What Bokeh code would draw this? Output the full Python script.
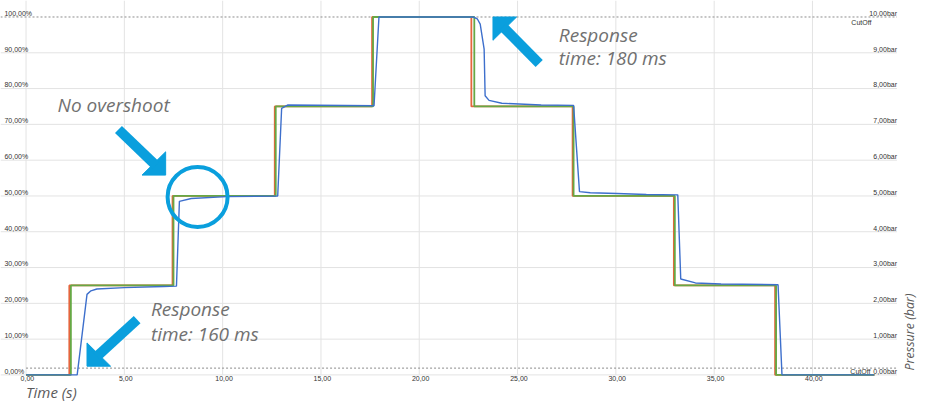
import math
from bokeh.plotting import figure
from bokeh.models import Range1d
from bokeh.core.properties import value
from bokeh.embed import file_html
from bokeh.resources import INLINE

# ---------------- data ----------------
# setpoint (red) and command (green): step times [s] and levels [%]
red_step_times = [2.2, 7.45, 12.65, 17.6, 22.65, 27.8, 32.95, 38.1]
green_step_times = [2.28, 7.5, 12.7, 17.65, 22.8, 27.85, 33.0, 38.15]
step_levels = [0, 25, 50, 75, 100, 75, 50, 25, 0]
t_end = 43.15

# measured pressure (blue)
blue_t = [0.0, 2.6, 3.1, 3.3, 3.6, 5.0, 7.0, 7.65,
          7.8, 8.4, 10.2, 12.8,
          13.0, 13.3, 17.7,
          17.95, 22.75, 22.95, 23.1, 23.3, 23.35, 23.55, 24.2, 26.2, 27.85,
          28.15, 28.7, 30.05, 31.55, 33.15,
          33.3, 34.05, 35.35, 38.25,
          38.45, 43.15]
blue_p = [0.0, 0.0, 22.5, 23.5, 24.0, 24.4, 24.7, 24.8,
          48.5, 49.3, 49.8, 50.0,
          74.5, 75.4, 75.2,
          100.0, 100.0, 99.5, 98.0, 91.0, 78.0, 76.7, 75.9, 75.4, 75.3,
          51.2, 50.9, 50.7, 50.4, 50.3,
          26.8, 25.7, 25.4, 25.2,
          0.0, 0.0]

# axes ticks
y_ticks = [0, 10, 20, 30, 40, 50, 60, 70, 80, 90, 100]
y_left_labels = ["0,00%", "10,00%", "20,00%", "30,00%", "40,00%", "50,00%",
                 "60,00%", "70,00%", "80,00%", "90,00%", "100,00%"]
y_right_labels = ["0,00bar", "1,00bar", "2,00bar", "3,00bar", "4,00bar", "5,00bar",
                  "6,00bar", "7,00bar", "8,00bar", "9,00bar", "10,00bar"]
x_ticks = [0, 5, 10, 15, 20, 25, 30, 35, 40]
x_labels = ["0,00", "5,00", "10,00", "15,00", "20,00", "25,00", "30,00", "35,00", "40,00"]
cutoff_levels = [100.0, 1.9]


def step_path(times, levels, t0, t1):
    xs, ys = [t0], [levels[0]]
    for t, a, b in zip(times, levels[:-1], levels[1:]):
        xs += [t, t]
        ys += [a, b]
    xs.append(t1)
    ys.append(levels[-1])
    return xs, ys


# ---------------- figure ----------------
# reference-pixel helpers for annotation placement
def tx(X):
    return (X - 26) / 20.0


def ty(Y):
    return (386 - Y) / 3.69


W, H = 919, 403
XS, YS = 0.983, 0.97
p = figure(width=W, height=H, x_range=Range1d(tx(0), tx(W / XS)), y_range=Range1d(ty(H / YS), ty(0)),
           output_backend="svg", toolbar_location=None, min_border=0)
p.axis.visible = False
p.grid.visible = False
p.outline_line_color = None
p.background_fill_color = "white"
p.border_fill_color = "white"

grid_col = "#e3e3e3"
x_left, x_right = tx(0), tx(912)

# grid
hy = [v for v in y_ticks if v < 100]
p.segment(x0=[x_left] * len(hy), y0=hy, x1=[x_right] * len(hy), y1=hy, line_color=grid_col, line_width=1)
p.segment(x0=x_ticks, x1=x_ticks, y0=[0] * len(x_ticks), y1=[ty(0)] * len(x_ticks),
          line_color=grid_col, line_width=1)
p.segment(x0=[x_left, 0], y0=cutoff_levels, x1=[x_right, x_right], y1=cutoff_levels,
          line_color="#8c8c8c", line_width=1, line_dash="2 2")

# tick labels
tick_font = value("Liberation Sans")
tick_size = "7px"
tick_col = "#333333"
off = 7.3 / 3.69
p.text(x=[tx(4)] * len(y_ticks), y=[v + off for v in y_ticks], text=y_left_labels,
       text_font=tick_font, text_font_size=tick_size, text_color=tick_col,
       text_align="left", text_baseline="top")
p.text(x=[tx(912)] * len(y_ticks), y=[v + off for v in y_ticks], text=y_right_labels,
       text_font=tick_font, text_font_size=tick_size, text_color=tick_col,
       text_align="right", text_baseline="top")
p.text(x=[v + 0.07 for v in x_ticks], y=[ty(387)] * len(x_ticks), text=x_labels,
       text_font=tick_font, text_font_size=tick_size, text_color=tick_col,
       text_align="center", text_baseline="top")
p.text(x=[tx(886), tx(885)], y=[ty(19), ty(378.7)], text=["CutOff", "CutOff"],
       text_font=tick_font, text_font_size=tick_size, text_color=tick_col,
       text_align="right", text_baseline="top")

# data lines
rx, ry = step_path(red_step_times, step_levels, 0.0, t_end)
gx, gy = step_path(green_step_times, step_levels, 0.0, t_end)
p.line(rx, ry, line_color="#e5653d", line_width=1.8)
p.line(gx, gy, line_color="#66a845", line_width=1.8)
p.line(blue_t, blue_p, line_color="#3d6fcc", line_width=1.4)

# axis titles
title_font = value("Open Sans")
p.text(x=[tx(26)], y=[ty(392.8)], text=["Time (s)"], text_font=title_font, text_font_style="italic",
       text_font_size="15px", text_color="#5a5a5a", text_align="left", text_baseline="top")
p.text(x=[tx(915.6)], y=[ty(381.4)], text=["Pressure (bar)"], text_font=title_font, text_font_style="italic",
       text_font_size="12.5px", text_color="#5a5a5a", text_align="left", text_baseline="top",
       angle=math.pi / 2)

# annotations (Y = cap-top in reference pixels, shifted to em-box top)
ann_col = "#0a9fdd"
notes = [("No overshoot", 58, 101.7), ("Response", 568, 29), ("time: 180 ms", 568, 53),
         ("Response", 153, 311.7), ("time: 160 ms", 153, 337.5)]
p.text(x=[tx(n[1]) for n in notes], y=[ty(n[2] - 7.0) for n in notes], text=[n[0] for n in notes],
       text_font=title_font, text_font_style="italic", text_font_size="19px",
       text_color="#717171", text_align="left", text_baseline="top")

arrows = [((168, 180), (120, 133)), ((501, 17), (548, 65)), ((88, 377), (139, 329))]
for (tipX, tipY), (tailX, tailY) in arrows:
    sx = 1 if tipX > tailX else -1
    sy = 1 if tipY > tailY else -1
    leg = 24
    p.patch([tx(tipX), tx(tipX - sx * leg), tx(tipX)],
            [ty(tipY), ty(tipY), ty(tipY - sy * leg)],
            fill_color=ann_col, line_color=ann_col, line_width=1)
    p.line([tx(tailX), tx(tipX - sx * 10)], [ty(tailY), ty(tipY - sy * 10)],
           line_color=ann_col, line_width=10, line_cap="butt")

p.scatter(x=[tx(200.5)], y=[ty(202.5)], size=60, marker="circle", fill_alpha=0,
          line_color=ann_col, line_width=4)

open("out.html", "w").write(file_html(p, INLINE))
